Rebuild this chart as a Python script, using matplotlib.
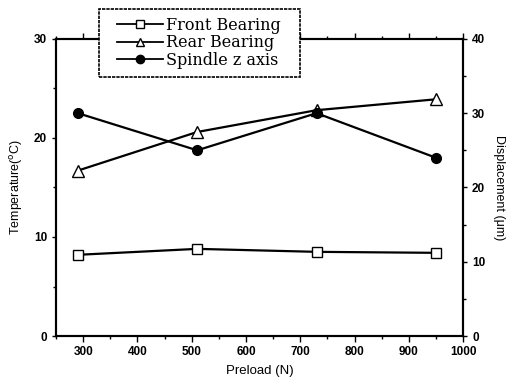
import matplotlib
matplotlib.use("Agg")
import matplotlib.pyplot as plt
from matplotlib.ticker import MultipleLocator
from matplotlib.lines import Line2D
from matplotlib.patches import Rectangle

preload = [290, 510, 730, 950]
front_bearing = [8.2, 8.8, 8.5, 8.4]
rear_bearing = [16.7, 20.6, 22.8, 23.9]
spindle_z = [30.0, 25.0, 30.0, 24.0]

x_ticks = [300, 400, 500, 600, 700, 800, 900, 1000]
temp_ticks = [0, 10, 20, 30]
disp_ticks = [0, 10, 20, 30, 40]

plt.rcParams["font.family"] = ["Liberation Sans", "DejaVu Sans"]

W, H = 510, 381
fig = plt.figure(figsize=(W / 100, H / 100), dpi=100)
ax = fig.add_axes([0.110, 0.118, 0.798, 0.780])
ax2 = ax.twinx()

lw = 1.6
ax.plot(preload, front_bearing, color="black", lw=lw, marker="s", ms=7,
        mfc="white", mec="black", mew=1.0, zorder=3)
ax.plot(preload, rear_bearing, color="black", lw=lw, marker="^", ms=8,
        mfc="white", mec="black", mew=1.0, zorder=3)
ax2.plot(preload, spindle_z, color="black", lw=lw, marker="o", ms=7,
         mfc="black", mec="black", zorder=3)

ax.set_xlim(250, 1000)
ax.set_ylim(0, 30)
ax2.set_ylim(0, 40)
ax.set_xticks(x_ticks)
ax.set_yticks(temp_ticks)
ax2.set_yticks(disp_ticks)
ax.xaxis.set_minor_locator(MultipleLocator(50))
ax.yaxis.set_minor_locator(MultipleLocator(5))
ax2.yaxis.set_minor_locator(MultipleLocator(5))

for a in (ax, ax2):
    for s in a.spines.values():
        s.set_linewidth(1.5)

ax.tick_params(axis="x", which="both", direction="out", top=True,
               labelsize=8.5, width=1.0)
ax.tick_params(axis="x", which="major", length=4)
ax.tick_params(axis="x", which="minor", length=2)
ax.tick_params(axis="y", which="major", direction="out", length=3, labelsize=8.5, width=1.0)
ax.tick_params(axis="y", which="minor", direction="out", length=2, width=1.0)
ax2.tick_params(axis="y", which="major", direction="out", length=3, labelsize=8.5, width=1.0)
ax2.tick_params(axis="y", which="minor", direction="out", length=2, width=1.0)
for lbl in ax.get_xticklabels() + ax.get_yticklabels() + ax2.get_yticklabels():
    lbl.set_fontweight("bold")

ax.set_xlabel("Preload (N)", fontsize=9.5, labelpad=5)
ax.set_ylabel("Temperature($^{\\mathrm{o}}$C)", fontsize=9, labelpad=6)
ax2.set_ylabel("Displacement (\u03bcm)", fontsize=9, rotation=270, labelpad=14)

# legend box drawn as its own frame so the padding can be set freely
box = Rectangle((99 / W, 1 - 77 / H), 201 / W, 68 / H, transform=fig.transFigure,
                fill=True, facecolor="white", edgecolor="black", lw=1.2,
                linestyle=(0, (2, 0.6)), zorder=5)
fig.patches.append(box)

handles = [
    Line2D([], [], color="black", lw=1.3, marker="s", ms=6, mfc="white", mec="black"),
    Line2D([], [], color="black", lw=1.3, marker="^", ms=6, mfc="white", mec="black"),
    Line2D([], [], color="black", lw=1.3, marker="o", ms=6, mfc="black", mec="black"),
]
labels = ["Front Bearing", "Rear Bearing", "Spindle z axis"]
leg = fig.legend(handles, labels, loc="upper left",
                 bbox_to_anchor=(117 / W, 1 - 17 / H),
                 prop={"family": "DejaVu Serif", "size": 11.5},
                 frameon=False, handlelength=2.85,
                 handletextpad=0.2, labelspacing=0.02, borderpad=0,
                 borderaxespad=0)
leg.set_zorder(6)

fig.savefig("out.png", dpi=100)
